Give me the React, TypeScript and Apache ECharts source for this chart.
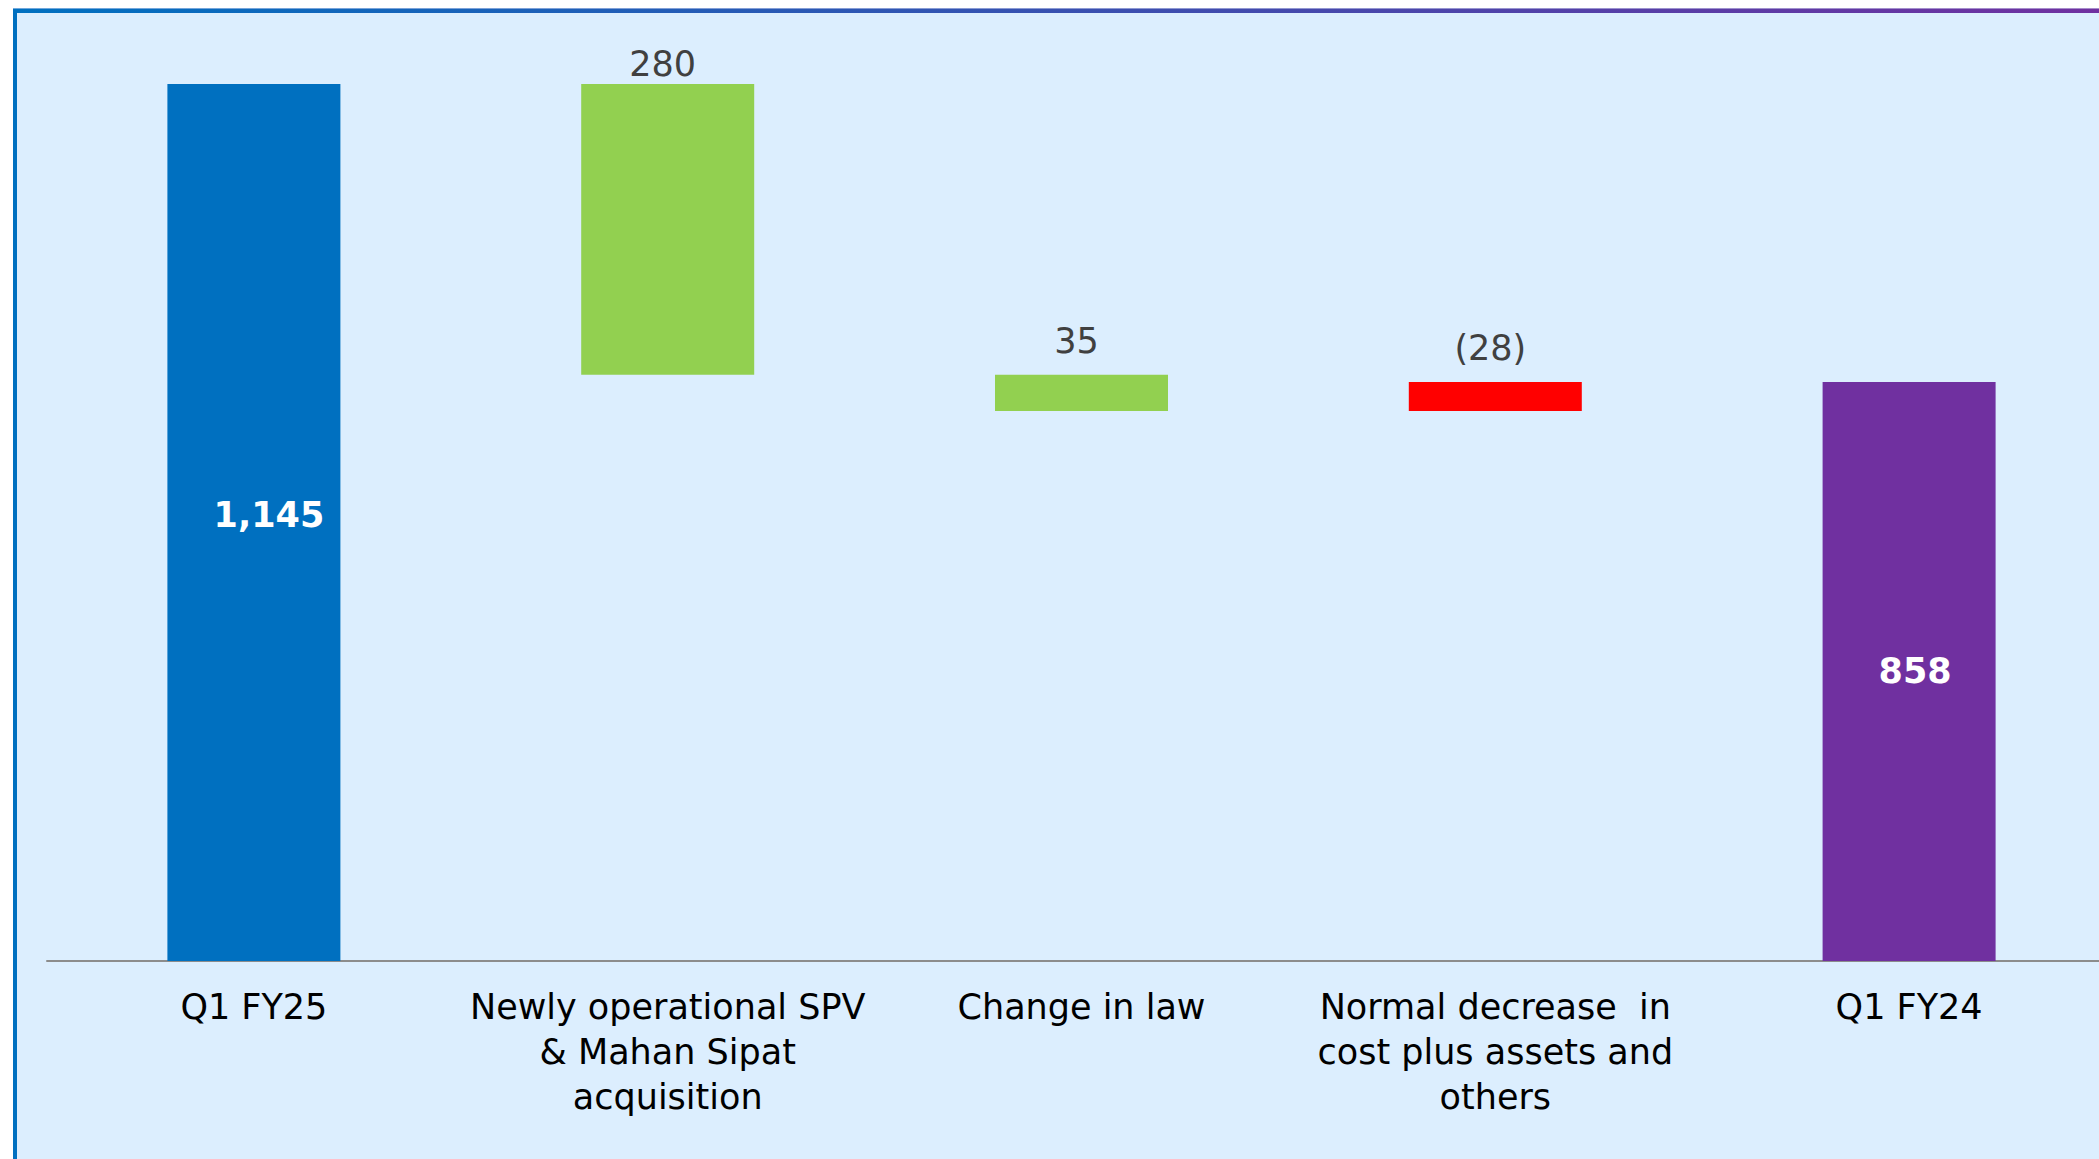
import React, { useEffect, useRef } from "react";
import * as echarts from "echarts";

const categories = [
  "Q1 FY25",
  "Newly operational SPV\n& Mahan Sipat\nacquisition",
  "Change in law",
  "Normal decrease  in\ncost plus assets and\nothers",
  "Q1 FY24",
];
// first and last are totals; the middle items are the bridge steps
const values = [1145, 280, 35, -28, 858];
const isTotal = [true, false, false, false, true];
const barColors = ["#0070C0", "#92D050", "#92D050", "#FF0000", "#7030A0"];

const FONT = "DejaVu Sans";

function fmt(v: number): string {
  const s = Math.abs(v).toLocaleString("en-US");
  return v < 0 ? `(${s})` : s;
}

export default function App() {
  const ref = useRef<HTMLDivElement>(null);

  useEffect(() => {
    document.body.style.margin = "0";
    if (!ref.current) return;
    const chart = echarts.init(ref.current, null, { renderer: "svg" });

    // waterfall built from the right-hand total
    const base: number[] = new Array(values.length).fill(0);
    const height: number[] = new Array(values.length).fill(0);
    let level = values[values.length - 1];
    for (let i = values.length - 2; i >= 1; i--) {
      const v = values[i];
      if (v < 0) {
        base[i] = level + v;
        height[i] = -v;
      } else {
        base[i] = level;
        height[i] = v;
      }
      level += v;
    }
    values.forEach((v, i) => {
      if (isTotal[i]) {
        base[i] = 0;
        height[i] = v;
      }
    });

    const barData = values.map((v, i) => ({
      value: height[i],
      itemStyle: { color: barColors[i] },
      label: isTotal[i]
        ? {
            show: true,
            position: "inside",
            offset: i === 0 ? [15, -8] : [6, 0],
            formatter: fmt(v),
            color: "#FFFFFF",
            fontWeight: "bold",
            fontSize: 35,
            fontFamily: FONT,
          }
        : {
            show: true,
            position: "top",
            distance: i === 1 ? 3 : 16,
            offset: [-5, 0],
            formatter: fmt(v),
            color: "#404040",
            fontSize: 35,
            fontFamily: FONT,
          },
    }));

    chart.setOption({
      animation: false,
      backgroundColor: "#FFFFFF",
      grid: {
        left: 47,
        width: 2069,
        top: 27,
        bottom: 198,
        containLabel: false,
        outerBoundsMode: "none",
      },
      xAxis: {
        type: "category",
        data: categories,
        axisTick: { show: false },
        axisLine: { lineStyle: { color: "#8C8C8C", width: 2 } },
        axisLabel: {
          interval: 0,
          margin: 23,
          color: "#000000",
          fontSize: 35,
          lineHeight: 45,
          fontFamily: FONT,
        },
      },
      yAxis: {
        type: "value",
        min: 300,
        max: 1200,
        show: false,
        splitLine: { show: false },
      },
      graphic: [
        {
          type: "rect",
          z: -10,
          silent: true,
          shape: { x: 13, y: 9, width: 2100, height: 1160 },
          style: { fill: "#DCEEFE" },
        },
        {
          type: "rect",
          z: 100,
          silent: true,
          shape: { x: 13, y: 8, width: 2100, height: 1 },
          style: {
            fill: new echarts.graphic.LinearGradient(0, 0, 1, 0, [
              { offset: 0, color: "#6FA8DC" },
              { offset: 1, color: "#A98CCB" },
            ]),
          },
        },
        {
          type: "rect",
          z: 100,
          silent: true,
          shape: { x: 13, y: 9, width: 2100, height: 4 },
          style: {
            fill: new echarts.graphic.LinearGradient(0, 0, 1, 0, [
              { offset: 0, color: "#0070C0" },
              { offset: 1, color: "#7030A0" },
            ]),
          },
        },
        {
          type: "rect",
          z: 100,
          silent: true,
          shape: { x: 13, y: 9, width: 4, height: 1160 },
          style: { fill: "#0070C0" },
        },
      ],
      series: [
        {
          name: "base",
          type: "bar",
          stack: "w",
          barWidth: 173,
          silent: true,
          itemStyle: { color: "transparent" },
          data: base,
        },
        {
          name: "value",
          type: "bar",
          stack: "w",
          barWidth: 173,
          data: barData,
        },
      ],
    });

    return () => chart.dispose();
  }, []);

  return <div ref={ref} style={{ width: 2099, height: 1159 }} />;
}
